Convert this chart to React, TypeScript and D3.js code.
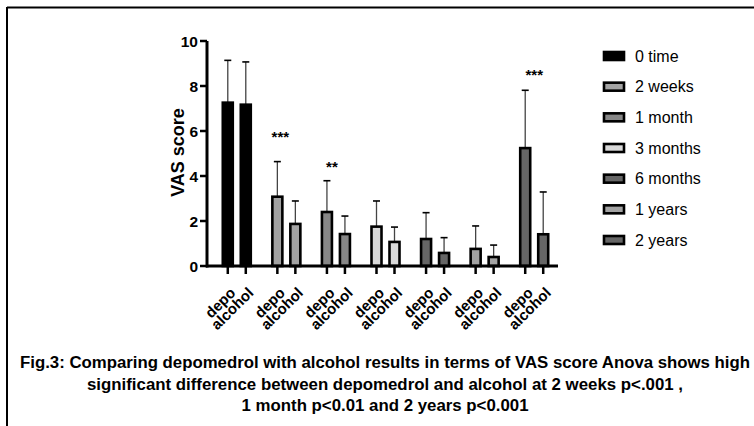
import * as d3 from 'd3';

const timepoints = ['0 time', '2 weeks', '1 month', '3 months', '6 months', '1 years', '2 years'];
const treatments = ['depo', 'alcohol'];
const depoMeans = [7.26, 3.08, 2.4, 1.75, 1.2, 0.76, 5.24];
const depoErrors = [1.88, 1.56, 1.39, 1.14, 1.17, 1.02, 2.57];
const alcoholMeans = [7.17, 1.87, 1.42, 1.07, 0.58, 0.4, 1.41];
const alcoholErrors = [1.9, 1.02, 0.8, 0.66, 0.68, 0.53, 1.88];
const fills = ['#000000', '#a3a3a3', '#878787', '#d9d9d9', '#666666', '#a3a3a3', '#666666'];
const yTicks = [0, 2, 4, 6, 8, 10];
// significance marks: group, text, y position in VAS units, x nudge
const stars = [
  { group: '2 weeks', text: '***', level: 5.87, nudge: 3 },
  { group: '1 month', text: '**', level: 4.53, nudge: 5 },
  { group: '2 years', text: '***', level: 8.62, nudge: 9 },
];
const caption = [
  'Fig.3: Comparing depomedrol with alcohol results in terms of VAS score Anova shows high',
  'significant difference between depomedrol  and alcohol at 2 weeks p<.001 ,',
  '1 month p<0.01 and 2 years p<0.001',
];
const captionWidths = [730, 596, 287];

const width = 754;
const height = 426;
const font = 'Liberation Sans, Arial, sans-serif';

export default function App() {
  const x = d3.scaleBand().domain(timepoints).range([212, 559]).padding(0);
  const inner = d3
    .scaleBand()
    .domain(treatments)
    .range([x.bandwidth() / 2 - 18, x.bandwidth() / 2 + 18])
    .paddingInner(1 / 3)
    .paddingOuter(1 / 6);
  const y = d3.scaleLinear().domain([0, 10]).range([266, 41]);
  const axisX = 207;

  const bars = timepoints.flatMap((t, i) => [
    { t, i, k: 'depo', mean: depoMeans[i], err: depoErrors[i] },
    { t, i, k: 'alcohol', mean: alcoholMeans[i], err: alcoholErrors[i] },
  ]);
  const cx = (b) => (x(b.t) ?? 0) + (inner(b.k) ?? 0) + inner.bandwidth() / 2;

  const legendY = d3.scalePoint().domain(timepoints).range([56, 240]);

  return (
    <div style={{ position: 'fixed', left: 0, top: 0 }}>
      <svg width={width} height={height} style={{ display: 'block', background: '#fff' }} fontFamily={font}>
        {/* frame */}
        <line x1={7} x2={width} y1={7.5} y2={7.5} stroke="#000" strokeWidth={2} />
        <line x1={7} x2={7} y1={7} y2={height} stroke="#000" strokeWidth={2} />

        {/* error bars */}
        {bars.map((b, idx) => (
          <g key={`e${idx}`} stroke="#444" strokeWidth={1.3}>
            <line x1={cx(b)} x2={cx(b)} y1={y(b.mean)} y2={y(b.mean + b.err)} />
            <line x1={cx(b) - 3.5} x2={cx(b) + 3.5} y1={y(b.mean + b.err)} y2={y(b.mean + b.err)} stroke="#000" strokeWidth={1.6} />
          </g>
        ))}

        {/* bars */}
        {bars.map((b, idx) => (
          <rect
            key={`b${idx}`}
            x={cx(b) - inner.bandwidth() / 2 + 1}
            width={inner.bandwidth() - 2}
            y={y(b.mean)}
            height={y(0) - y(b.mean)}
            fill={fills[b.i]}
            stroke="#000"
            strokeWidth={2.6}
          />
        ))}

        {/* y axis */}
        <line x1={axisX} x2={axisX} y1={y(10)} y2={y(0) + 1.5} stroke="#000" strokeWidth={3} />
        {yTicks.map((v) => (
          <g key={v}>
            <line x1={axisX - 7} x2={axisX} y1={y(v)} y2={y(v)} stroke="#000" strokeWidth={2.5} />
            <text x={axisX - 9} y={y(v)} dy="0.36em" textAnchor="end" fontSize={15.5} fontWeight="bold">
              {v}
            </text>
          </g>
        ))}
        <text
          transform={`translate(${178},${y(5) - 1}) rotate(-90)`}
          textAnchor="middle"
          dy="0.36em"
          fontSize={18}
          fontWeight="bold"
        >
          VAS score
        </text>

        {/* x axis */}
        <line x1={axisX - 1} x2={558} y1={y(0)} y2={y(0)} stroke="#000" strokeWidth={3} />
        {bars.map((b, idx) => (
          <g key={`t${idx}`}>
            <line x1={cx(b)} x2={cx(b)} y1={y(0)} y2={y(0) + 8} stroke="#000" strokeWidth={2.5} />
            <text
              transform={`translate(${cx(b) + 5},${y(0) + 24}) rotate(-45)`}
              textAnchor="end"
              dy="0.35em"
              fontSize={15}
              fontWeight="bold"
            >
              {b.k}
            </text>
          </g>
        ))}

        {/* significance */}
        {stars.map((s) => (
          <text
            key={s.group}
            x={(x(s.group) ?? 0) + (inner('depo') ?? 0) + inner.bandwidth() / 2 + s.nudge}
            y={y(s.level) + 8}
            textAnchor="middle"
            fontSize={15}
            fontWeight="bold"
          >
            {s.text}
          </text>
        ))}

        {/* legend */}
        {timepoints.map((t, i) => (
          <g key={`l${t}`} transform={`translate(0,${legendY(t)})`}>
            <rect x={604} y={-4} width={20} height={8} fill={fills[i]} stroke="#000" strokeWidth={2.6} />
            <text x={635} y={0} dy="0.35em" fontSize={16}>
              {t}
            </text>
          </g>
        ))}

        {/* caption */}
        {caption.map((line, i) => (
          <text
            key={i}
            x={385}
            y={368 + i * 21.5}
            textAnchor="middle"
            fontSize={16}
            fontWeight="bold"
            textLength={captionWidths[i]}
            lengthAdjust="spacingAndGlyphs"
          >
            {line}
          </text>
        ))}
      </svg>
    </div>
  );
}
